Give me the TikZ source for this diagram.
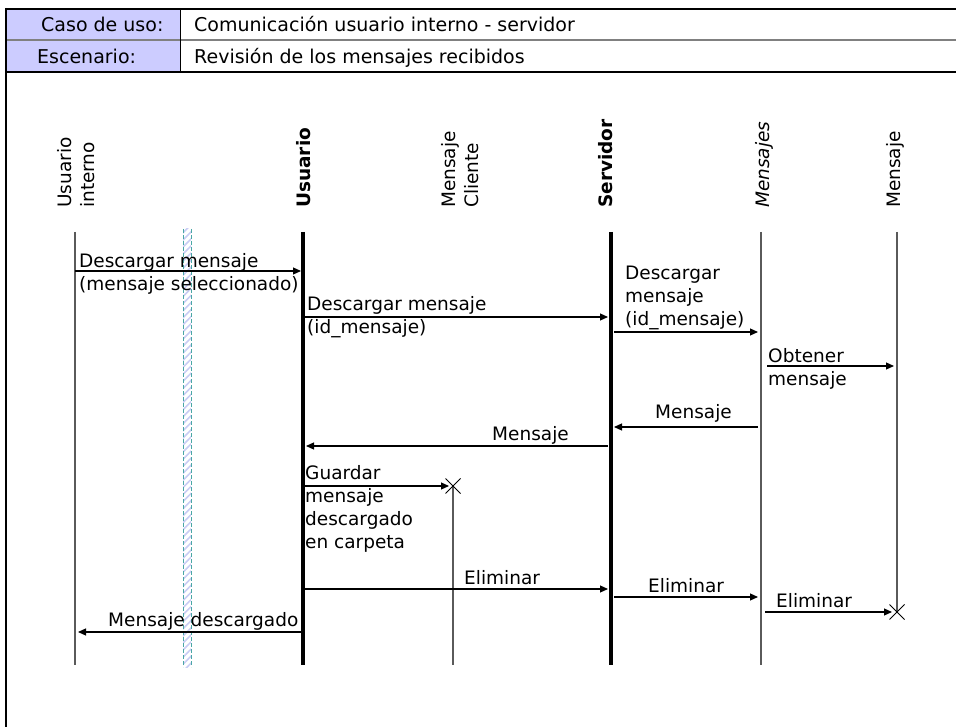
\documentclass[tikz,border=0pt]{standalone}
\usepackage{fontspec}
\setmainfont{DejaVu Sans}
\usetikzlibrary{arrows.meta,patterns.meta}
\definecolor{hdrfill}{HTML}{CCCCFF}
\definecolor{lifegray}{HTML}{5A5A5A}
\definecolor{barteal}{HTML}{4AA6A6}
\definecolor{barstripe}{HTML}{C8CCF4}
\begin{document}
\begin{tikzpicture}[x=1pt,y=-1pt,
  font=\fontsize{18.5}{23}\selectfont,
  lifeline/.style={draw=lifegray,line width=1.3pt},
  objline/.style={draw=black,line width=3.2pt},
  msg/.style={draw=black,line width=1.1pt,-{Triangle[length=8pt,width=7pt]}},
  lbl/.style={anchor=base west,inner sep=0pt,align=left},
  hdrtext/.style={lbl,font=\fontsize{19}{23}\selectfont},
  head/.style={rotate=90,anchor=west,inner sep=0pt,align=left},
  killmark/.style={draw=black,line width=1pt}]
\useasboundingbox (0,0) rectangle (956,727);

% ---- header table ----
\fill[hdrfill] (7,9) rectangle (180,72);
\draw[line width=2.5pt] (5,9) -- (956,9);
\draw[draw=gray,line width=1.5pt] (7,40) -- (956,40);
\draw[line width=1.2pt] (7,72) -- (956,72);
\draw[line width=1pt] (180,9) -- (180,72);
\draw[line width=2.5pt] (6,8) -- (6,727);
\node[hdrtext] (caso) at (41,32) {Caso de uso:};
\node[hdrtext] (casoval) at (194,32) {Comunicación usuario interno - servidor};
\node[hdrtext] (esc) at (37,64) {Escenario:};
\node[hdrtext] (escval) at (194,64) {Revisión de los mensajes recibidos};

% ---- participants ----
\node[head] (hui) at (76,208) {Usuario\\interno};
\node[head] (hus) at (304,208) {\bfseries Usuario};
\node[head] (hmc) at (460,208) {Mensaje\\Cliente};
\node[head] (hsv) at (606,208) {\bfseries Servidor};
\node[head] (hms) at (764,208) {\itshape Mensajes};
\node[head] (hmj) at (895,208) {Mensaje};

% ---- lifelines ----
\coordinate (ui-t) at (75,232);  \coordinate (ui-b) at (75,665);
\coordinate (us-t) at (303,232); \coordinate (us-b) at (303,665);
\coordinate (mc-t) at (453,486); \coordinate (mc-b) at (453,665);
\coordinate (sv-t) at (611,232); \coordinate (sv-b) at (611,665);
\coordinate (ms-t) at (761,232); \coordinate (ms-b) at (761,665);
\coordinate (mj-t) at (897,232); \coordinate (mj-b) at (897,612);

% hatched boundary bar
\fill[pattern={Lines[angle=45,distance=5pt,line width=1.6pt]},pattern color=barstripe]
  (183,229) rectangle (191,667);
\draw[draw=barteal,line width=1pt,dash pattern=on 4pt off 2pt] (183,229) -- (183,667);
\draw[draw=barteal,line width=1pt,dash pattern=on 4pt off 2pt] (191,229) -- (191,667);

\draw[lifeline] (ui-t) -- (ui-b);
\draw[objline] (us-t) -- (us-b);
\draw[lifeline] (mc-t) -- (mc-b);
\draw[objline] (sv-t) -- (sv-b);
\draw[lifeline] (ms-t) -- (ms-b);
\draw[lifeline] (mj-t) -- (mj-b);

% ---- messages (label nodes are placed by the baseline of their last line) ----
\coordinate (m1a) at (75,271);  \coordinate (m1b) at (301,271);
\draw[msg] (m1a) -- (m1b);
\node[lbl] (t1) at (79,291) {Descargar mensaje\\(mensaje seleccionado)};

\coordinate (m2a) at (304,317); \coordinate (m2b) at (608,317);
\draw[msg] (m2a) -- (m2b);
\node[lbl] (t2) at (307,334) {Descargar mensaje\\(id\_mensaje)};

\coordinate (m3a) at (614,332); \coordinate (m3b) at (758,332);
\draw[msg] (m3a) -- (m3b);
\node[lbl] (t3) at (625,326) {Descargar\\mensaje\\(id\_mensaje)};

\coordinate (m4a) at (767,366); \coordinate (m4b) at (894,366);
\draw[msg] (m4a) -- (m4b);
\node[lbl] (t4) at (768,385) {Obtener\\mensaje};

\coordinate (m5a) at (758,427); \coordinate (m5b) at (614,427);
\draw[msg] (m5a) -- (m5b);
\node[lbl] (t5) at (655,418) {Mensaje};

\coordinate (m6a) at (608,446); \coordinate (m6b) at (306,446);
\draw[msg] (m6a) -- (m6b);
\node[lbl] (t6) at (492,440) {Mensaje};

\coordinate (m7a) at (304,486); \coordinate (m7b) at (449,486);
\draw[msg] (m7a) -- (m7b);
\node[lbl] (t7) at (305,548) {Guardar\\mensaje\\descargado\\en carpeta};
\draw[killmark] ([shift={(-7.5,-7.5)}]mc-t) -- ([shift={(7.5,7.5)}]mc-t);
\draw[killmark] ([shift={(-7.5,7.5)}]mc-t) -- ([shift={(7.5,-7.5)}]mc-t);

\coordinate (m8a) at (304,589); \coordinate (m8b) at (608,589);
\draw[msg] (m8a) -- (m8b);
\node[lbl] (t8) at (464,584) {Eliminar};

\coordinate (m9a) at (614,597); \coordinate (m9b) at (758,597);
\draw[msg] (m9a) -- (m9b);
\node[lbl] (t9) at (648,592) {Eliminar};

\coordinate (m10a) at (765,612); \coordinate (m10b) at (892,612);
\draw[msg] (m10a) -- (m10b);
\node[lbl] (t10) at (776,607) {Eliminar};
\draw[killmark] ([shift={(-7.5,-7.5)}]mj-b) -- ([shift={(7.5,7.5)}]mj-b);
\draw[killmark] ([shift={(-7.5,7.5)}]mj-b) -- ([shift={(7.5,-7.5)}]mj-b);

\coordinate (m11a) at (301,632); \coordinate (m11b) at (78,632);
\draw[msg] (m11a) -- (m11b);
\node[lbl] (t11) at (108,626) {Mensaje descargado};
\end{tikzpicture}
\end{document}
